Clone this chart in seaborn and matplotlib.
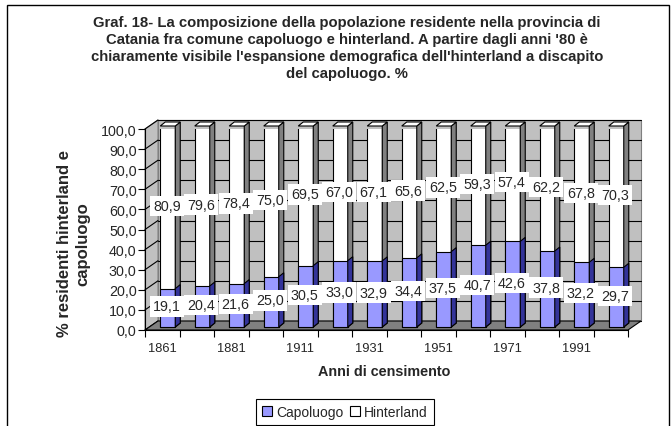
import numpy as np
import pandas as pd
import matplotlib
matplotlib.use("Agg")
import matplotlib.pyplot as plt
import seaborn as sns
from matplotlib.patches import Polygon, Rectangle, Patch

# ---------------- data ----------------
years = ["1861", "1871", "1881", "1901", "1911", "1921", "1931",
         "1936", "1951", "1961", "1971", "1981", "1991", "2001"]
capoluogo = [19.1, 20.4, 21.6, 25.0, 30.5, 33.0, 32.9,
             34.4, 37.5, 40.7, 42.6, 37.8, 32.2, 29.7]
hinterland = [80.9, 79.6, 78.4, 75.0, 69.5, 67.0, 67.1,
              65.6, 62.5, 59.3, 57.4, 62.2, 67.8, 70.3]
xtick_labels = ["1861", "", "1881", "", "1911", "", "1931",
                "", "1951", "", "1971", "", "1991", ""]
ytick_values = [0, 10, 20, 30, 40, 50, 60, 70, 80, 90, 100]
ytick_labels = ["0,0", "10,0", "20,0", "30,0", "40,0", "50,0",
                "60,0", "70,0", "80,0", "90,0", "100,0"]
series_names = ["Capoluogo", "Hinterland"]

title = ("Graf. 18- La composizione della popolazione residente nella provincia di\n"
         "Catania fra comune capoluogo e hinterland. A partire dagli anni '80 è\n"
         "chiaramente visibile l'espansione demografica dell'hinterland a discapito\n"
         "del capoluogo. %")
ylabel = "% residenti hinterland e\ncapoluogo"
xlabel = "Anni di censimento"

# ---------------- style ----------------
sns.set_style("white")
plt.rcParams['font.family'] = ['Liberation Sans', 'DejaVu Sans']

BLUE = "#9999FF"
BLUE_SIDE = "#333399"
WALL = "#C0C0C0"
FLOOR = "#808080"

df = pd.DataFrame({"anno": years, "Capoluogo": capoluogo, "Hinterland": hinterland})
df["Totale"] = df["Capoluogo"] + df["Hinterland"]

W, H = 672, 427
fig = plt.figure(figsize=(W / 100, H / 100), dpi=100)
ax_l, ax_b, ax_w, ax_h = 145, 96, 483, 201
ax = fig.add_axes([ax_l / W, ax_b / H, ax_w / W, ax_h / H])
ax.set_facecolor("none")

n = len(years)
x0, x1 = -0.5, n - 0.5
PX_X = (x1 - x0) / ax_w
PX_Y = 100 / ax_h

# 3D walls
dxw, dyw = 13 * PX_X, 9 * PX_Y
ax.add_patch(Rectangle((x0 + dxw, dyw), x1 - x0, 100, fc=WALL, ec="#808080",
                       lw=0.8, zorder=0.5, clip_on=False))
ax.add_patch(Polygon([(x0, 0), (x0 + dxw, dyw), (x0 + dxw, 100 + dyw), (x0, 100)],
                     closed=True, fc=WALL, ec="#808080", lw=0.8, zorder=0.5, clip_on=False))
for v in ytick_values:
    ax.plot([x0 + dxw, x1 + dxw], [v + dyw, v + dyw], color="black", lw=0.8,
            zorder=0.6, clip_on=False)
    ax.plot([x0, x0 + dxw], [v, v + dyw], color="black", lw=0.8,
            zorder=0.6, clip_on=False)
ax.add_patch(Polygon([(x0, 0), (x1, 0), (x1 + dxw, dyw), (x0 + dxw, dyw)],
                     closed=True, fc=FLOOR, ec="black", lw=0.8, zorder=0.7, clip_on=False))

# bars
bw = 0.435
sns.barplot(data=df, x="anno", y="Totale", color="white", saturation=1,
            width=bw, edgecolor="black", linewidth=0.8, errorbar=None, ax=ax, zorder=3)
sns.barplot(data=df, x="anno", y="Capoluogo", color=BLUE, saturation=1,
            width=bw, edgecolor="black", linewidth=0.8, errorbar=None, ax=ax, zorder=4)

shift_x = 5.5 * PX_X
lift = 3 * PX_Y
dxb, dyb = 5 * PX_X, 4 * PX_Y
bars = list(ax.patches)[-2 * n:]
for k, p in enumerate(bars):
    p.set_x(p.get_x() + shift_x)
    p.set_y(p.get_y() + lift)
    x, y, w, h = p.get_x(), p.get_y(), p.get_width(), p.get_height()
    white = k < n
    z = 3.1 if white else 4.1
    side_c = FLOOR if white else BLUE_SIDE
    ax.add_patch(Polygon([(x + w, y), (x + w + dxb, y + dyb), (x + w + dxb, y + h + dyb),
                          (x + w, y + h)], closed=True, fc=side_c, ec="black",
                         lw=0.8, zorder=z, clip_on=False))
    if white:
        ax.add_patch(Polygon([(x, y + h), (x + dxb, y + h + dyb), (x + w + dxb, y + h + dyb),
                              (x + w, y + h)], closed=True, fc="white", ec="black",
                             lw=0.8, zorder=z, clip_on=False))

# value labels
def fmt(v):
    return f"{v:.1f}".replace(".", ",")

box = dict(boxstyle="square,pad=0.22", fc="white", ec="none")
for i, (c, h) in enumerate(zip(capoluogo, hinterland)):
    ax.text(i + 0.13, c / 2 + 2.2, fmt(c), ha="center", va="center", fontsize=10.3,
            bbox=box, zorder=6)
    ax.text(i + 0.13, c + h / 2 + 2.2, fmt(h), ha="center", va="center", fontsize=10.3,
            bbox=box, zorder=6)

# axes
ax.set_xlim(x0, x1)
ax.set_ylim(0, 100)
for s in ["top", "right"]:
    ax.spines[s].set_visible(False)
for s in ["left", "bottom"]:
    ax.spines[s].set_color("black")
    ax.spines[s].set_linewidth(0.8)
    ax.spines[s].set_zorder(0.8)
ax.set_yticks(ytick_values, ytick_labels)
ax.set_xticks(range(n), xtick_labels)
ax.set_xticks(np.arange(x0, x1 + 0.01, 1), minor=True)
ax.tick_params(axis="y", left=True, length=5, width=0.8, color="black",
               labelsize=10.3, pad=1, direction="out")
ax.tick_params(axis="x", which="major", bottom=True, length=0, labelsize=9.3, pad=9)
ax.tick_params(axis="x", which="minor", bottom=True, length=5, width=0.8,
               color="black", direction="out")
ax.set_xlabel("")
ax.set_ylabel("")

# texts
fig.text(347 / W, 1 - 16 / H, title, ha="center", va="top", fontsize=10.7,
         fontweight="bold", linespacing=1.27)
fig.text(74 / W, 1 - 244 / H, ylabel, rotation=90, ha="center", va="center",
         multialignment="center", fontsize=12, fontweight="bold", linespacing=1.3)
fig.text(384 / W, 1 - 372 / H, xlabel, ha="center", va="center", fontsize=10.4,
         fontweight="bold")

handles = [Patch(fc=BLUE, ec="black", lw=0.8, label=series_names[0]),
           Patch(fc="white", ec="black", lw=0.8, label=series_names[1])]
leg = fig.legend(handles=handles, loc="center", bbox_to_anchor=(345 / W, 1 - 413 / H),
                 ncol=2, frameon=True, fancybox=False, edgecolor="black", framealpha=1,
                 fontsize=10, handlelength=0.7, handleheight=0.7, handletextpad=0.3,
                 columnspacing=0.5, borderpad=0.45, borderaxespad=0)
leg.get_frame().set_linewidth(0.8)

# outer frame
fig.add_artist(Rectangle((7 / W, -0.05), (669 - 7) / W, 1.05 - 6 / H,
                         transform=fig.transFigure, fill=False, ec="black", lw=1))

fig.savefig("out.png", dpi=100)
